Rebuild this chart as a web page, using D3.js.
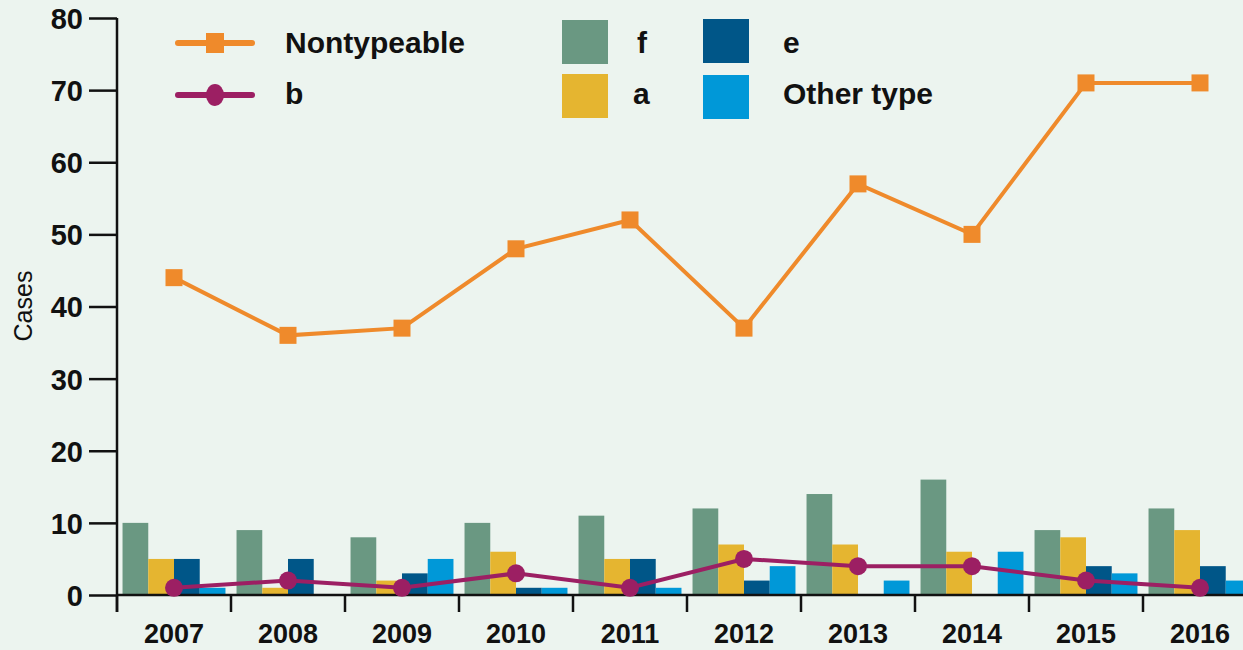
<!DOCTYPE html>
<html>
<head>
<meta charset="utf-8">
<script src="https://cdn.jsdelivr.net/npm/d3@7"></script>
<style>
  html, body { margin: 0; padding: 0; background: #ecf4ef; }
  svg { display: block; }
  text { font-family: "Liberation Sans", Arial, sans-serif; fill: #111; }
</style>
</head>
<body>
<svg id="chart" width="1243" height="650"></svg>
<script>
const years = ['2007','2008','2009','2010','2011','2012','2013','2014','2015','2016'];
const barSeries = ['f', 'a', 'e', 'Other type'];
const fValues     = [10, 9, 8, 10, 11, 12, 14, 16, 9, 12];
const aValues     = [5, 1, 2, 6, 5, 7, 7, 6, 8, 9];
const eValues     = [5, 5, 3, 1, 5, 2, 0, 0, 4, 4];
const otherValues = [1, 0, 5, 1, 1, 4, 2, 6, 3, 2];
const nontypeable = [44, 36, 37, 48, 52, 37, 57, 50, 71, 71];
const bValues     = [1, 2, 1, 3, 1, 5, 4, 4, 2, 1];
const yTicks = [0, 10, 20, 30, 40, 50, 60, 70, 80];

const COLOURS = { 'f': '#6a9882', 'a': '#e5b530', 'e': '#005688', 'Other type': '#0098d8' };
const ORANGE = '#ef8a2b', PURPLE = '#9c1f63';

const svg = d3.select('#chart');
const x0 = 117, bandW = 114;

const x = d3.scaleBand().domain(years).range([x0, x0 + bandW * years.length]).padding(0);
const xi = d3.scaleBand().domain(barSeries).range([0, bandW]).paddingInner(0).paddingOuter(0.215);
const y = d3.scaleLinear().domain([0, 80]).range([595, 18]);

const barValues = { 'f': fValues, 'a': aValues, 'e': eValues, 'Other type': otherValues };

// Bars
const gBars = svg.append('g');
years.forEach((yr, i) => {
  barSeries.forEach(s => {
    const v = barValues[s][i];
    if (!v) return;
    gBars.append('rect')
      .attr('x', x(yr) + xi(s))
      .attr('y', y(v))
      .attr('width', xi.bandwidth())
      .attr('height', y(0) - y(v))
      .attr('fill', COLOURS[s]);
  });
});

// Axes
const yAxis = svg.append('g').attr('transform', `translate(${x0},0)`)
  .call(d3.axisLeft(y).tickValues(yTicks).tickSize(28).tickPadding(6));
yAxis.select('.domain').remove();
yAxis.append('line').attr('x1', 0).attr('x2', 0).attr('y1', y(80)).attr('y2', 612)
  .attr('stroke', '#111').attr('stroke-width', 2.5);
yAxis.selectAll('.tick line').attr('stroke', '#111').attr('stroke-width', 2.5);
yAxis.selectAll('.tick text').attr('font-size', 29).attr('font-weight', 'bold').attr('fill', '#111')
  .attr('dy', '0.36em')
  .style('font-family', '"Liberation Sans", Arial, sans-serif');

const xAxis = svg.append('g').attr('transform', `translate(0,${y(0)})`);
xAxis.append('line').attr('x1', x0).attr('x2', 1243).attr('y1', 0).attr('y2', 0)
  .attr('stroke', '#111').attr('stroke-width', 2.5);
xAxis.selectAll('line.tk').data(years).enter().append('line').attr('class', 'tk')
  .attr('x1', d => x(d)).attr('x2', d => x(d)).attr('y1', 0).attr('y2', 17)
  .attr('stroke', '#111').attr('stroke-width', 2.5);
xAxis.selectAll('text.lbl').data(years).enter().append('text').attr('class', 'lbl')
  .attr('x', d => x(d) + x.bandwidth() / 2).attr('y', 48)
  .attr('text-anchor', 'middle').attr('font-size', 27).attr('font-weight', 'bold')
  .text(d => d);

svg.append('text').attr('transform', `translate(32,306) rotate(-90)`)
  .attr('text-anchor', 'middle').attr('font-size', 25).text('Cases');

// Lines
const cx = (d, i) => x(years[i]) + x.bandwidth() / 2;
const line = d3.line().x(cx).y(d => y(d));

svg.append('path').datum(nontypeable).attr('d', line)
  .attr('fill', 'none').attr('stroke', ORANGE).attr('stroke-width', 4);
svg.selectAll('rect.nt').data(nontypeable).enter().append('rect').attr('class', 'nt')
  .attr('x', (d, i) => cx(d, i) - 8.5).attr('y', d => y(d) - 8.5)
  .attr('width', 17).attr('height', 17).attr('fill', ORANGE);

svg.append('path').datum(bValues).attr('d', line)
  .attr('fill', 'none').attr('stroke', PURPLE).attr('stroke-width', 4);
svg.selectAll('circle.b').data(bValues).enter().append('circle').attr('class', 'b')
  .attr('cx', cx).attr('cy', d => y(d)).attr('r', 9).attr('fill', PURPLE);

// Legend
const leg = svg.append('g');
[['Nontypeable', ORANGE, 'rect', 43, 53], ['b', PURPLE, 'circle', 95, 104]].forEach(([name, col, shape, ly, base]) => {
  leg.append('line').attr('x1', 178).attr('x2', 252).attr('y1', ly).attr('y2', ly)
    .attr('stroke', col).attr('stroke-width', 6).attr('stroke-linecap', 'round');
  if (shape === 'rect') {
    leg.append('rect').attr('x', 206).attr('y', ly - 10).attr('width', 18).attr('height', 20).attr('fill', col);
  } else {
    leg.append('ellipse').attr('cx', 215).attr('cy', ly).attr('rx', 9).attr('ry', 11).attr('fill', col);
  }
  leg.append('text').attr('x', 285).attr('y', base)
    .attr('font-size', 30).attr('font-weight', 'bold').text(name);
});
const swatches = [
  ['f', 562, 20, 637, 53], ['a', 562, 74, 633, 104],
  ['e', 703, 19, 783, 53], ['Other type', 703, 75, 783, 104]
];
swatches.forEach(([s, sx, sy, tx, base]) => {
  leg.append('rect').attr('x', sx).attr('y', sy).attr('width', 46).attr('height', 44).attr('fill', COLOURS[s]);
  leg.append('text').attr('x', tx).attr('y', base)
    .attr('font-size', 30).attr('font-weight', 'bold').text(s);
});
</script>
</body>
</html>
